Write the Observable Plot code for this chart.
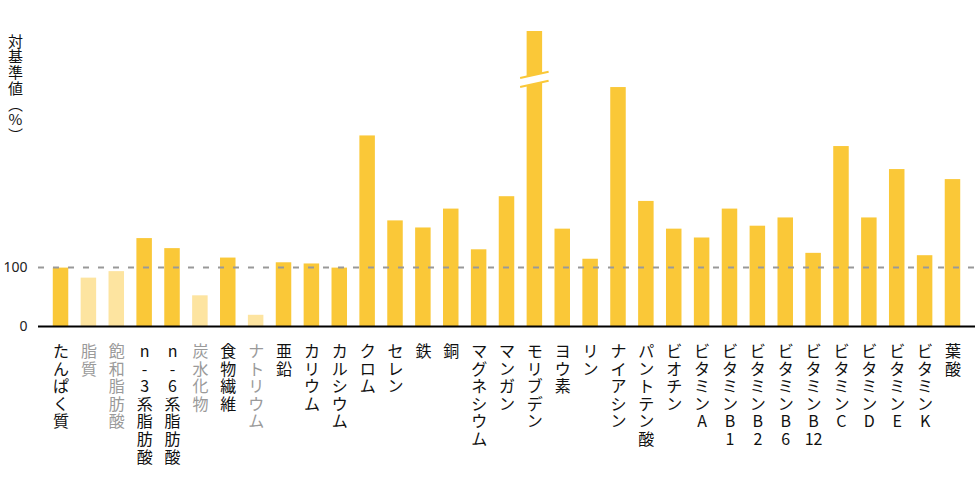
<!DOCTYPE html>
<html>
<head>
<meta charset="utf-8">
<script src="https://cdn.jsdelivr.net/npm/d3@7"></script>
<script src="https://cdn.jsdelivr.net/npm/@observablehq/plot@0.6"></script>
<style>
  html, body { margin: 0; padding: 0; background: #fff; }
</style>
</head>
<body>
<div id="chart"></div>
<script>
// ---- data ----
const nutrients = [
  "たんぱく質", "脂質", "飽和脂肪酸", "n-3系脂肪酸", "n-6系脂肪酸", "炭水化物", "食物繊維", "ナトリウム",
  "亜鉛", "カリウム", "カルシウム", "クロム", "セレン", "鉄", "銅", "マグネシウム", "マンガン",
  "モリブデン", "ヨウ素", "リン", "ナイアシン", "パントテン酸", "ビオチン", "ビタミンA",
  "ビタミンB1", "ビタミンB2", "ビタミンB6", "ビタミンB12", "ビタミンC", "ビタミンD",
  "ビタミンE", "ビタミンK", "葉酸"
];
const values = [
  99, 82, 93, 149, 132, 52, 116, 19,
  108, 106, 99, 323, 179, 167, 199, 130, 220,
  500, 165, 114, 405, 212, 165, 150,
  199, 170, 184, 124, 305, 184,
  266, 120, 249
];
const mutedNutrients = ["脂質", "飽和脂肪酸", "炭水化物", "ナトリウム"];
const brokenNutrients = ["モリブデン"];
const yTicks = [0, 100];
const referenceLine = [100];
const yLabel = "対基準値(%)";

// ---- styles ----
const mainColor = "#FAC838";
const lightColor = "#FDE4A0";
const textColor = "#111111";
const mutedText = "#9a9a9a";
const BREAK_AT = 418;

const data = nutrients.map((name, i) => ({
  name, value: values[i], muted: mutedNutrients.includes(name)
}));

// vertical stacking of characters, keep 2-digit numbers together (tate-chu-yoko)
const tokens = s => s.match(/\d{2,}|./gu);
const vertical = s => tokens(s).map(c => c === "(" ? "︵" : c === ")" ? "︶" : c).join("\n");

function breakMark(names) {
  return (index, scales, values, dimensions, context) => {
    const g = d3.create("svg:g");
    const xs = scales.x, ys = scales.y;
    const bw = typeof xs.bandwidth === "function" ? xs.bandwidth() : xs.bandwidth;
    for (const n of names) {
      const cx = xs(n) + bw / 2;
      const cy = ys(BREAK_AT);
      const hw = bw / 2 + 6.5;
      const s = 0.22, half = 4.5;
      const yu = x => cy - half - s * x;
      const yl = x => cy + half - s * x;
      g.append("polygon")
        .attr("points", [[cx - hw, yu(-hw)], [cx + hw, yu(hw)], [cx + hw, yl(hw)], [cx - hw, yl(-hw)]].map(p => p.join(",")).join(" "))
        .attr("fill", "#fff");
      for (const f of [yu, yl]) {
        g.append("line")
          .attr("x1", cx - hw).attr("y1", f(-hw))
          .attr("x2", cx + hw).attr("y2", f(hw))
          .attr("stroke", mainColor).attr("stroke-width", 2);
      }
    }
    return g.node();
  };
}

const chart = Plot.plot({
  width: 980,
  height: 490,
  marginTop: 31,
  marginBottom: 164,
  marginLeft: 38,
  marginRight: 5,
  style: { fontFamily: "'Noto Sans CJK JP', 'Noto Sans', sans-serif", background: "#fff" },
  x: { domain: nutrients, paddingInner: 0.444, paddingOuter: 0.53, round: false, axis: null },
  y: { domain: [0, 500], axis: null },
  color: { type: "identity" },
  marks: [
    Plot.barY(data, { x: "name", y: "value", fill: d => d.muted ? lightColor : mainColor }),
    Plot.ruleY(referenceLine, { stroke: "#999", strokeWidth: 2, strokeDasharray: "6,9" }),
    Plot.ruleY([0], { stroke: "#000", strokeWidth: 2 }),
    Plot.axisY({ ticks: yTicks, tickSize: 0, tickPadding: 11, fontSize: 14, fill: "#222", label: null,
                 fontFamily: "'Noto Sans', sans-serif" }),
    Plot.text(data, {
      x: "name", y: d => 0, text: d => vertical(d.name),
      lineAnchor: "top", dy: 18, fontSize: 16, lineHeight: 1.1,
      fill: d => d.muted ? mutedText : textColor
    }),
    breakMark(brokenNutrients),
    Plot.text([yLabel], {
      frameAnchor: "top-left", text: d => vertical(d), dx: -23, dy: 4,
      lineAnchor: "top", textAnchor: "middle", fontSize: 15, lineHeight: 1.05, fill: "#111"
    })
  ]
});

document.getElementById("chart").appendChild(chart);
</script>
</body>
</html>
